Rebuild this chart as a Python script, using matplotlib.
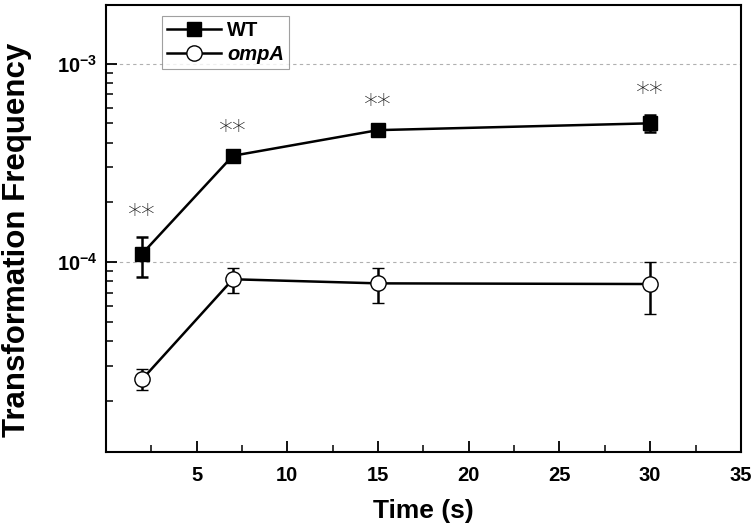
import matplotlib
matplotlib.use('Agg')
from matplotlib import pyplot as plt
from matplotlib.ticker import FixedLocator, LogLocator, NullFormatter, MultipleLocator
import numpy as np

plt.rcParams['font.family'] = ['Liberation Sans', 'DejaVu Sans']
plt.rcParams['mathtext.fontset'] = 'custom'
plt.rcParams['mathtext.rm'] = 'Liberation Sans:bold'
plt.rcParams['mathtext.bf'] = 'Liberation Sans:bold'

# data
time_s = [2, 7, 15, 30]
wt_mean = [1.10e-4, 3.43e-4, 4.62e-4, 5.00e-4]
wt_err_hi = [1.34e-4, 3.55e-4, 4.80e-4, 5.53e-4]
wt_err_lo = [8.4e-5, 3.32e-4, 4.45e-4, 4.52e-4]
ompa_mean = [2.56e-5, 8.18e-5, 7.80e-5, 7.74e-5]
ompa_err_hi = [2.87e-5, 9.36e-5, 9.29e-5, 1.00e-4]
ompa_err_lo = [2.26e-5, 6.95e-5, 6.23e-5, 5.44e-5]
signif = ['**', '**', '**', '**']
ytick_vals = [1e-4, 1e-3]
ytick_labels = [r'$10^{-4}$', r'$10^{-3}$']
xtick_vals = [5, 10, 15, 20, 25, 30, 35]

fig = plt.figure(figsize=(7.56, 5.30), dpi=100)
ax = fig.add_axes([0.140, 0.147, 0.840, 0.844])

wt_m = np.array(wt_mean)
wt_yerr = [wt_m - np.array(wt_err_lo), np.array(wt_err_hi) - wt_m]
om_m = np.array(ompa_mean)
om_yerr = [om_m - np.array(ompa_err_lo), np.array(ompa_err_hi) - om_m]

wt = ax.errorbar(time_s, wt_mean, yerr=wt_yerr, color='black', lw=1.8,
                 marker='s', ms=10, mfc='black', mec='black',
                 capsize=4.5, capthick=1.8, elinewidth=1.8, zorder=3)
om = ax.errorbar(time_s, ompa_mean, yerr=om_yerr, color='black', lw=1.8,
                 marker='o', ms=11, mfc='white', mec='black', mew=1.0,
                 capsize=4.5, capthick=1.8, elinewidth=1.8, zorder=3)

for x, top, s in zip(time_s, wt_err_hi, signif):
    ax.annotate(s, (x, top), xytext=(0, 15), textcoords='offset points',
                ha='center', va='center', fontsize=20, color='#1a1a1a',
                family='DejaVu Sans', fontweight='light')

ax.set_yscale('log')
ax.set_xlim(0, 35)
ax.set_ylim(1.1e-5, 1.98e-3)

ax.xaxis.set_major_locator(FixedLocator(xtick_vals))
ax.xaxis.set_minor_locator(MultipleLocator(2.5))
ax.yaxis.set_major_locator(FixedLocator(ytick_vals))
ax.set_yticklabels(ytick_labels)
ax.yaxis.set_minor_locator(LogLocator(base=10, subs=np.arange(2, 10)))
ax.yaxis.set_minor_formatter(NullFormatter())

ax.tick_params(axis='both', which='major', direction='in', length=8, width=1.3,
               labelsize=14.5)
ax.tick_params(axis='both', which='minor', direction='in', length=5, width=1.1)
ax.tick_params(axis='x', pad=10)
ax.tick_params(axis='y', pad=6)
for lab in ax.get_xticklabels():
    lab.set_fontweight('bold')

for sp in ax.spines.values():
    sp.set_linewidth(1.5)

ax.grid(axis='y', which='major', color='#b0b0b0', linestyle=(0, (3, 3)), lw=0.8)
ax.set_axisbelow(True)

ax.set_xlabel('Time (s)', fontsize=19, fontweight='bold', labelpad=10)
ax.set_ylabel('Transformation Frequency', fontsize=22.5, fontweight='bold')
ax.yaxis.set_label_coords(-0.116, 0.475)

leg = ax.legend([wt.lines[0], om.lines[0]], ['WT', 'ompA'],
                loc='upper left', bbox_to_anchor=(0.088, 0.975), frameon=True,
                fancybox=False, edgecolor='#888888', fontsize=14.5,
                handlelength=2.7, borderpad=0.25, labelspacing=0.25,
                handletextpad=0.3, borderaxespad=0)
leg.get_frame().set_linewidth(0.8)
for i, t in enumerate(leg.get_texts()):
    t.set_fontweight('bold')
    if i == 1:
        t.set_fontstyle('italic')

fig.savefig('out.png', dpi=100)
